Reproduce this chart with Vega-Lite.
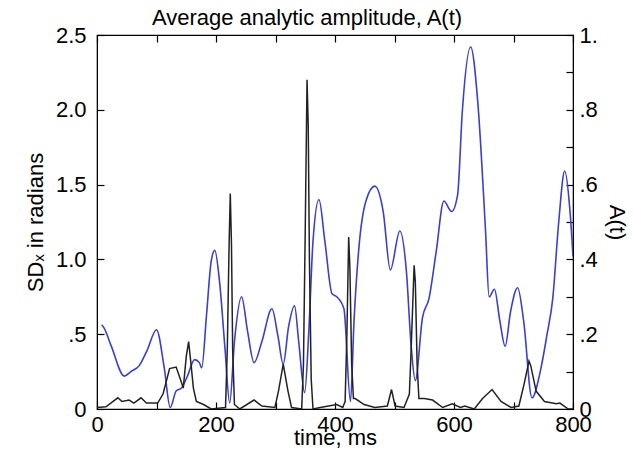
{
  "$schema": "https://vega.github.io/schema/vega-lite/v6.json",
  "width": 476,
  "height": 374,
  "autosize": "none",
  "padding": {"left": 97, "top": 35, "right": 61, "bottom": 49},
  "background": "white",
  "config": {
    "font": "Liberation Sans",
    "view": {"stroke": "black", "strokeWidth": 1.2},
    "axis": {
      "grid": false,
      "domainColor": "black",
      "tickColor": "black",
      "labelColor": "black",
      "titleColor": "black",
      "labelFont": "Liberation Sans",
      "titleFont": "Liberation Sans",
      "labelFontSize": 22,
      "titleFontSize": 22,
      "titleFontWeight": "normal",
      "tickSize": -7,
      "tickWidth": 1.2,
      "labelOverlap": false,
      "labelFlush": false
    }
  },
  "title": {
    "text": "Average analytic amplitude, A(t)",
    "font": "Liberation Sans",
    "fontSize": 22,
    "fontWeight": "normal",
    "color": "black",
    "anchor": "middle",
    "dx": -28,
    "offset": -6
  },
  "datasets": {
    "sd": [
      {"t": 0, "v": 0.01}, {"t": 15, "v": 0.015}, {"t": 35, "v": 0.075}, {"t": 42, "v": 0.05},
      {"t": 54, "v": 0.06}, {"t": 62, "v": 0.04}, {"t": 74, "v": 0.075}, {"t": 83, "v": 0.04},
      {"t": 102, "v": 0.04}, {"t": 111, "v": 0.1}, {"t": 122, "v": 0.27}, {"t": 133, "v": 0.28},
      {"t": 140, "v": 0.2}, {"t": 145, "v": 0.14}, {"t": 150, "v": 0.35}, {"t": 154, "v": 0.45},
      {"t": 158, "v": 0.3}, {"t": 162, "v": 0.14}, {"t": 167, "v": 0.05}, {"t": 179, "v": 0.03},
      {"t": 192, "v": 0.0}, {"t": 216, "v": 0.01}, {"t": 219, "v": 0.4}, {"t": 222, "v": 1.1},
      {"t": 224, "v": 1.44}, {"t": 226, "v": 1.1}, {"t": 228, "v": 0.4}, {"t": 231, "v": 0.03},
      {"t": 240, "v": 0.0}, {"t": 264, "v": 0.06}, {"t": 277, "v": 0.02}, {"t": 299, "v": 0.01},
      {"t": 305, "v": 0.12}, {"t": 313, "v": 0.3}, {"t": 321, "v": 0.12}, {"t": 327, "v": 0.01},
      {"t": 344, "v": 0.0}, {"t": 347, "v": 0.3}, {"t": 350, "v": 1.2}, {"t": 353, "v": 2.2},
      {"t": 355, "v": 1.9}, {"t": 357, "v": 1.0}, {"t": 360, "v": 0.2}, {"t": 363, "v": 0.0},
      {"t": 375, "v": 0.01}, {"t": 403, "v": 0.03}, {"t": 413, "v": 0.01}, {"t": 417, "v": 0.05},
      {"t": 420, "v": 0.5}, {"t": 423, "v": 1.15}, {"t": 425, "v": 0.95}, {"t": 428, "v": 0.3},
      {"t": 431, "v": 0.07}, {"t": 434, "v": 0.07}, {"t": 449, "v": 0.03}, {"t": 467, "v": 0.01},
      {"t": 488, "v": 0.02}, {"t": 495, "v": 0.13}, {"t": 501, "v": 0.02}, {"t": 516, "v": 0.01},
      {"t": 525, "v": 0.1}, {"t": 528, "v": 0.4}, {"t": 533, "v": 0.96}, {"t": 535, "v": 0.85},
      {"t": 538, "v": 0.3}, {"t": 541, "v": 0.07}, {"t": 550, "v": 0.07}, {"t": 564, "v": 0.06},
      {"t": 581, "v": 0.01}, {"t": 597, "v": 0.035}, {"t": 611, "v": 0.01}, {"t": 618, "v": 0.02},
      {"t": 634, "v": 0.0}, {"t": 648, "v": 0.07}, {"t": 664, "v": 0.13}, {"t": 679, "v": 0.05},
      {"t": 696, "v": 0.01}, {"t": 709, "v": 0.02}, {"t": 718, "v": 0.17}, {"t": 726, "v": 0.32},
      {"t": 729, "v": 0.29}, {"t": 738, "v": 0.12}, {"t": 752, "v": 0.05}, {"t": 772, "v": 0.035},
      {"t": 778, "v": 0.04}, {"t": 792, "v": 0.0}, {"t": 800, "v": 0.0}
    ],
    "amp": [
      {"t": 8, "a": 0.225}, {"t": 12, "a": 0.216}, {"t": 24, "a": 0.168}, {"t": 46, "a": 0.088},
      {"t": 57, "a": 0.1}, {"t": 71, "a": 0.116}, {"t": 84, "a": 0.156}, {"t": 100, "a": 0.212},
      {"t": 113, "a": 0.11}, {"t": 123, "a": 0.004}, {"t": 133, "a": 0.048}, {"t": 142, "a": 0.056},
      {"t": 152, "a": 0.088}, {"t": 164, "a": 0.132}, {"t": 172, "a": 0.124}, {"t": 176, "a": 0.11},
      {"t": 184, "a": 0.25}, {"t": 192, "a": 0.396}, {"t": 198, "a": 0.424}, {"t": 206, "a": 0.34},
      {"t": 215, "a": 0.164}, {"t": 223, "a": 0.016}, {"t": 231, "a": 0.18}, {"t": 243, "a": 0.3},
      {"t": 253, "a": 0.208}, {"t": 264, "a": 0.124}, {"t": 277, "a": 0.18}, {"t": 294, "a": 0.268},
      {"t": 304, "a": 0.196}, {"t": 313, "a": 0.12}, {"t": 322, "a": 0.22}, {"t": 332, "a": 0.276},
      {"t": 339, "a": 0.18}, {"t": 349, "a": 0.044}, {"t": 356, "a": 0.208}, {"t": 363, "a": 0.448},
      {"t": 373, "a": 0.56}, {"t": 383, "a": 0.448}, {"t": 395, "a": 0.308}, {"t": 403, "a": 0.3},
      {"t": 415, "a": 0.268}, {"t": 426, "a": 0.02}, {"t": 432, "a": 0.236}, {"t": 440, "a": 0.428},
      {"t": 452, "a": 0.556}, {"t": 467, "a": 0.596}, {"t": 481, "a": 0.528}, {"t": 493, "a": 0.372},
      {"t": 509, "a": 0.476}, {"t": 520, "a": 0.368}, {"t": 528, "a": 0.168}, {"t": 535, "a": 0.076},
      {"t": 547, "a": 0.244}, {"t": 558, "a": 0.296}, {"t": 570, "a": 0.42}, {"t": 583, "a": 0.556},
      {"t": 596, "a": 0.528}, {"t": 606, "a": 0.572}, {"t": 614, "a": 0.796}, {"t": 628, "a": 0.968},
      {"t": 640, "a": 0.82}, {"t": 653, "a": 0.476}, {"t": 659, "a": 0.3}, {"t": 668, "a": 0.32},
      {"t": 677, "a": 0.236}, {"t": 686, "a": 0.168}, {"t": 695, "a": 0.26}, {"t": 707, "a": 0.324},
      {"t": 717, "a": 0.236}, {"t": 731, "a": 0.03}, {"t": 746, "a": 0.108}, {"t": 756, "a": 0.196},
      {"t": 766, "a": 0.296}, {"t": 776, "a": 0.5}, {"t": 786, "a": 0.636}, {"t": 795, "a": 0.528},
      {"t": 800, "a": 0.408}
    ]
  },
  "layer": [
    {
      "data": {"name": "amp"},
      "mark": {"type": "line", "color": "#3a3fcc", "strokeWidth": 1.6, "interpolate": "monotone", "clip": true},
      "encoding": {
        "x": {
          "field": "t", "type": "quantitative",
          "scale": {"domain": [0, 800], "nice": false},
          "axis": {"orient": "top", "values": [0, 100, 200, 300, 400, 500, 600, 700, 800], "labels": false, "title": null}
        },
        "y": {
          "field": "a", "type": "quantitative",
          "scale": {"domain": [0, 1], "nice": false},
          "axis": {
            "orient": "right",
            "values": [0, 0.1, 0.2, 0.3, 0.4, 0.5, 0.6, 0.7, 0.8, 0.9, 1],
            "labelExpr": "datum.value == 0 ? '0' : datum.value == 1 ? '1.' : (round(datum.value * 10) % 2 == 0 ? replace(format(datum.value, '.1f'), '0.', '.') : '')",
            "labelPadding": 13,
            "title": "A(t)",
            "titlePadding": 7
          }
        }
      }
    },
    {
      "data": {"name": "sd"},
      "mark": {"type": "line", "color": "#222222", "strokeWidth": 1.5, "clip": true},
      "encoding": {
        "x": {
          "field": "t", "type": "quantitative",
          "scale": {"domain": [0, 800], "nice": false},
          "axis": {
            "orient": "bottom",
            "values": [0, 100, 200, 300, 400, 500, 600, 700, 800],
            "labelExpr": "datum.value % 200 == 0 ? datum.label : ''",
            "labelPadding": 12,
            "title": "time, ms",
            "titlePadding": -8
          }
        },
        "y": {
          "field": "v", "type": "quantitative",
          "scale": {"domain": [0, 2.5], "nice": false},
          "axis": {
            "orient": "left",
            "values": [0, 0.5, 1, 1.5, 2, 2.5],
            "labelExpr": "datum.value == 0 ? '0' : datum.value == 0.5 ? '.5' : format(datum.value, '.1f')",
            "labelPadding": 18,
            "title": "SDₓ in radians",
            "titlePadding": 8
          }
        }
      }
    }
  ],
  "resolve": {"scale": {"y": "independent"}, "axis": {"x": "independent", "y": "independent"}}
}
